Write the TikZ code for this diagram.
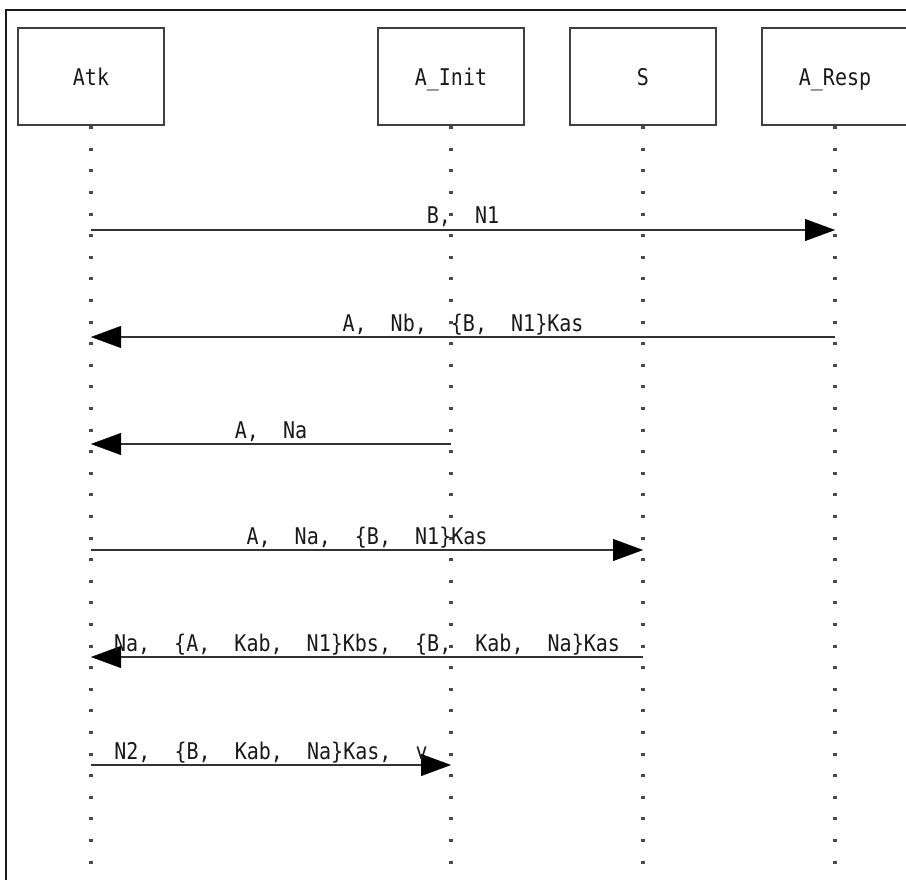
\documentclass[tikz,border=0pt]{standalone}
\usepackage{fontspec}
\setmonofont[FakeStretch=0.87]{DejaVu Sans Mono}
\usetikzlibrary{arrows.meta}
\begin{document}
\begin{tikzpicture}[x=1pt,y=-1pt,
  txt/.style={font=\ttfamily\fontsize{23}{23}\selectfont,text=black!90},
  actor/.style={txt,draw=black!75,line width=2.2pt,minimum width=146pt,minimum height=97pt,inner sep=0pt,text height=17pt,text depth=0pt,anchor=north,fill=white},
  lifeline/.style={line width=3.2pt,black!70,dash pattern=on 3pt off 18.6pt},
  msg/.style={line width=2.6pt,black!80,-{Triangle[length=30pt,width=22pt,black,line width=0.4pt]}},
  lbl/.style={txt,anchor=base,inner sep=0pt}
]
\useasboundingbox (0,0) rectangle (906,880);
\begin{scope}
\clip (0,0) rectangle (906,880);
\draw[line width=1.8pt,black!90] (6,900) -- (6,10) -- (920,10);

\node[actor] (atk) at (91,27) {Atk};
\node[actor] (init) at (451,27) {A\_Init};
\node[actor] (s) at (643,27) {S};
\node[actor] (resp) at (835,27) {A\_Resp};

\coordinate (atkE) at (91,880);
\coordinate (initE) at (451,880);
\coordinate (sE) at (643,880);
\coordinate (respE) at (835,880);
\draw[lifeline] (atk.south) -- (atkE);
\draw[lifeline] (init.south) -- (initE);
\draw[lifeline] (s.south) -- (sE);
\draw[lifeline] (resp.south) -- (respE);

\foreach \n/\y in {1/230,2/337,3/444,4/550,5/657,6/765}{
  \coordinate (atk\n) at (91,\y);
  \coordinate (init\n) at (451,\y);
  \coordinate (s\n) at (643,\y);
  \coordinate (resp\n) at (835,\y);
}

\draw[msg] (atk1) -- (resp1) node[lbl,pos=0.5,yshift=6pt] (l1) {B,~~N1};
\draw[msg] (resp2) -- (atk2) node[lbl,pos=0.5,yshift=6pt] (l2) {A,~~Nb,~~\{B,~~N1\}Kas};
\draw[msg] (init3) -- (atk3) node[lbl,pos=0.5,yshift=6pt] (l3) {A,~~Na};
\draw[msg] (atk4) -- (s4) node[lbl,pos=0.5,yshift=6pt] (l4) {A,~~Na,~~\{B,~~N1\}Kas};
\draw[msg] (s5) -- (atk5) node[lbl,pos=0.5,yshift=6pt] (l5) {Na,~~\{A,~~Kab,~~N1\}Kbs,~~\{B,~~Kab,~~Na\}Kas};
\draw[msg] (atk6) -- (init6) node[lbl,pos=0.5,yshift=6pt] (l6) {N2,~~\{B,~~Kab,~~Na\}Kas,~~v};
\end{scope}
\end{tikzpicture}
\end{document}
